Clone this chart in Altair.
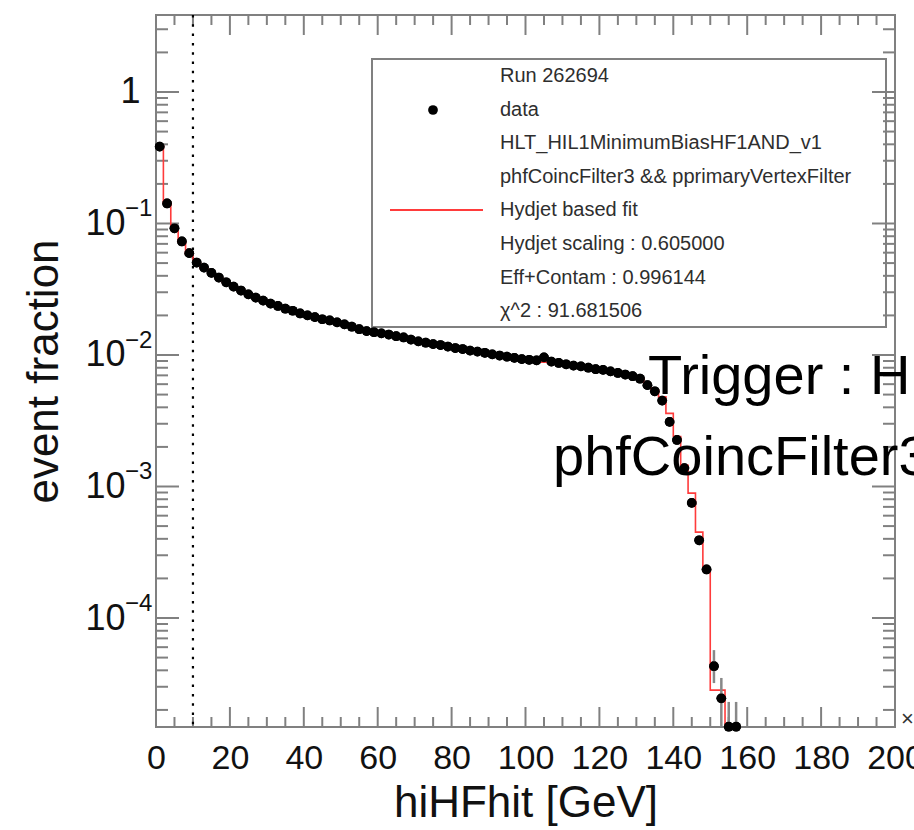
import altair as alt
import pandas as pd

# ---------------- data ----------------
bin_centers = list(range(1, 159, 2))  # 1, 3, ..., 157
data_frac = [
    0.384, 0.142, 0.092, 0.073, 0.0595, 0.0505, 0.0462, 0.0421, 0.0388, 0.0357,
    0.0331, 0.0309, 0.0289, 0.0273, 0.0259, 0.0246, 0.0236, 0.0225, 0.0217, 0.0207,
    0.0200, 0.0194, 0.0187, 0.0183, 0.0177, 0.0171, 0.0164, 0.0157, 0.0152, 0.0149,
    0.0146, 0.0143, 0.0139, 0.0136, 0.0131, 0.0127, 0.0124, 0.0121, 0.0119, 0.0116,
    0.0113, 0.0111, 0.0108, 0.0106, 0.0104, 0.0101, 0.0099, 0.0097, 0.0095, 0.0093,
    0.0092, 0.0091, 0.0096, 0.0089, 0.0087, 0.0085, 0.0083, 0.0082, 0.0080, 0.0078,
    0.0077, 0.0075, 0.0073, 0.0071, 0.0069, 0.0066, 0.0059, 0.0053, 0.0045, 0.0031,
    0.00226, 0.00138, 0.00075, 0.00039, 0.000234, 0.000043, 0.0000245, 0.0000149, 0.0000149,
]

fit_edges = list(range(0, 158, 2))  # 0, 2, ..., 156
fit_frac = [
    0.39, 0.143, 0.091, 0.072, 0.059, 0.0505, 0.0458, 0.0419, 0.0385, 0.0356,
    0.0331, 0.0309, 0.0290, 0.0274, 0.0259, 0.0247, 0.0235, 0.0225, 0.0216, 0.0207,
    0.0200, 0.0193, 0.0187, 0.0181, 0.0176, 0.0170, 0.0164, 0.0158, 0.0153, 0.0149,
    0.0145, 0.0141, 0.0138, 0.0135, 0.0131, 0.0127, 0.0124, 0.0121, 0.0118, 0.0115,
    0.0113, 0.0110, 0.0108, 0.0105, 0.0103, 0.0101, 0.0099, 0.0096, 0.0094, 0.0092,
    0.0090, 0.0089, 0.0088, 0.0087, 0.0085, 0.0084, 0.0082, 0.0080, 0.0079, 0.0077,
    0.0076, 0.0074, 0.0072, 0.0070, 0.0068, 0.0066, 0.0060, 0.0054, 0.0048, 0.0036,
    0.0024, 0.00145, 0.00089, 0.00045, 0.00023, 0.0000283, 0.0000283, 0.000001,
]

err_x = [151, 153, 155, 157]
err_lo = [3.2e-5, 1.5e-5, 1.5e-5, 1.5e-5]
err_hi = [5.7e-5, 3.5e-5, 2.3e-5, 2.3e-5]

x_major_ticks = [0, 20, 40, 60, 80, 100, 120, 140, 160, 180, 200]
x_minor_ticks = [v for v in range(5, 200, 5) if v % 20 != 0]
y_label_values = [1e-4, 1e-3, 1e-2, 1e-1, 1]
y_exponents = [-1, -2, -3, -4]
y_decades = [1e-5, 1e-4, 1e-3, 1e-2, 1e-1, 1]
y_mults = [2, 3, 4, 5, 6, 7, 8, 9]

legend_labels = [
    "Run 262694",
    "data",
    "HLT_HIL1MinimumBiasHF1AND_v1",
    "phfCoincFilter3 && pprimaryVertexFilter",
    "Hydjet based fit",
    "Hydjet scaling : 0.605000",
    "Eff+Contam : 0.996144",
    "χ^2 : 91.681506",
]
trigger_lines = [
    "Trigger : HLT_HIL1MinimumBiasHF1AND_v1",
    "phfCoincFilter3 && pprimaryVertexFilter",
]
cut_value = [10]

# ---------------- layout ----------------
W, H = 739, 712
FONT = "Liberation Sans"
FRAME = "#808080"
YMIN, YMAX = 1.483e-5, 3.85

xs = alt.Scale(domain=[0, 200], nice=False, zero=False)
ys = alt.Scale(type="log", domain=[YMIN, YMAX], nice=False)

y_minor = [d * m for d in y_decades for m in y_mults if YMIN <= d * m <= YMAX]
y_major = [d for d in y_decades if YMIN <= d <= YMAX]

df_pts = pd.DataFrame({"x": bin_centers, "y": data_frac})
df_fit = pd.DataFrame({"x": fit_edges, "y": fit_frac + [fit_frac[-1]]})
df_err = pd.DataFrame({"x": err_x, "lo": err_lo, "hi": err_hi})

x_axis = alt.Axis(values=x_major_ticks, ticks=False, domain=False, grid=False,
                  labelFontSize=34, labelPadding=14, labelBound=False,
                  labelOverlap=False, labelFlush=False,
                  title="hiHFhit [GeV]", titleFontSize=44, titlePadding=6)
y_axis = alt.Axis(values=y_label_values, ticks=False, domain=False, grid=False,
                  labelExpr="datum.value == 1 ? '1' : '10'",
                  labelFontSize=36,
                  labelPadding={"condition": {"test": "datum.value == 1", "value": 16}, "value": 31},
                  title="event fraction", titleFontSize=44, titlePadding=18)


def X(field):
    return alt.X(field, scale=xs, axis=None)


def Y(field):
    return alt.Y(field, scale=ys, axis=None)


points = alt.Chart(df_pts).mark_circle(color="black", size=95, opacity=1).encode(
    x=alt.X("x:Q", scale=xs, axis=x_axis), y=alt.Y("y:Q", scale=ys, axis=y_axis),
)

# legend box
legend_box = alt.Chart(pd.DataFrame({"a": [0]})).mark_rect(
    fill="white", stroke=FRAME, strokeWidth=2
).encode(x=alt.value(216), x2=alt.value(730), y=alt.value(44), y2=alt.value(312))

legend_text = alt.Chart(pd.DataFrame({"label": legend_labels, "i": list(range(len(legend_labels)))})).transform_calculate(
    ypix="61 + 33.6 * datum.i"
).mark_text(align="left", baseline="middle", font=FONT, fontSize=20, color="#2e2e2e").encode(
    x=alt.value(344), y=alt.Y("ypix:Q", scale=None), text="label:N"
)
legend_dot = alt.Chart(pd.DataFrame({"a": [0]})).mark_point(
    filled=True, color="black", size=95, opacity=1
).encode(x=alt.value(277), y=alt.value(95))
legend_line = alt.Chart(pd.DataFrame({"a": [0]})).mark_rule(
    color="#ff3b3b", strokeWidth=2
).encode(x=alt.value(234), x2=alt.value(327), y=alt.value(195))


# frame ticks (pointing inward, ROOT style)
def xticks(vals, length):
    d = pd.DataFrame({"tx": vals})
    bot = alt.Chart(d).mark_rule(color=FRAME, strokeWidth=2).encode(
        x=X("tx:Q"), y=alt.value(H), y2=alt.value(H - length))
    top = alt.Chart(d).mark_rule(color=FRAME, strokeWidth=2).encode(
        x=X("tx:Q"), y=alt.value(0), y2=alt.value(length))
    return [bot, top]


def yticks(vals, length):
    d = pd.DataFrame({"ty": vals})
    left = alt.Chart(d).mark_rule(color=FRAME, strokeWidth=2).encode(
        y=Y("ty:Q"), x=alt.value(0), x2=alt.value(length))
    right = alt.Chart(d).mark_rule(color=FRAME, strokeWidth=2).encode(
        y=Y("ty:Q"), x=alt.value(W), x2=alt.value(W - length))
    return [left, right]


tick_layers = (xticks(x_major_ticks, 20) + xticks(x_minor_ticks, 10)
               + yticks(y_major, 23) + yticks(y_minor, 12))

cut_line = alt.Chart(pd.DataFrame({"x": cut_value})).mark_rule(
    color="black", strokeWidth=2.2, strokeDash=[2.5, 6.8]
).encode(x=X("x:Q"), y=alt.value(0), y2=alt.value(H))

fit_line = alt.Chart(df_fit).mark_line(
    interpolate="step-after", color="#ff3b3b", strokeWidth=1.6, clip=True
).encode(x=X("x:Q"), y=Y("y:Q"))

err_bars = alt.Chart(df_err).mark_rule(color="#888", strokeWidth=2.5).encode(
    x=X("x:Q"), y=Y("lo:Q"), y2="hi:Q",
)

points_top = alt.Chart(df_pts).mark_circle(color="black", size=95, opacity=1).encode(
    x=X("x:Q"), y=Y("y:Q"),
)

sup = alt.Chart(pd.DataFrame({"e": y_exponents})).transform_calculate(
    yv="pow(10, datum.e)", s="'−' + abs(datum.e)"
).mark_text(align="left", baseline="middle", font=FONT, fontSize=24, color="#111", dy=-14).encode(
    x=alt.value(-31), y=Y("yv:Q"), text="s:N"
)

trig = alt.Chart(pd.DataFrame({"t": trigger_lines, "i": [0, 1]})).transform_calculate(
    xpix="datum.i == 0 ? 492 : 397", ypix="datum.i == 0 ? 379 : 460"
).mark_text(align="left", baseline="alphabetic", font=FONT, fontSize=56, color="black").encode(
    x=alt.X("xpix:Q", scale=None), y=alt.Y("ypix:Q", scale=None), text="t:N"
)

times = alt.Chart(pd.DataFrame({"t": ["×10³"]})).mark_text(
    align="left", baseline="middle", font=FONT, fontSize=22, color="#333"
).encode(x=alt.value(745), y=alt.value(704), text="t:N")

chart = alt.layer(
    points, legend_box, legend_text, legend_dot, legend_line,
    *tick_layers, cut_line, fit_line, err_bars, points_top, sup, trig, times
).resolve_axis(x="independent", y="independent").properties(
    width=W, height=H,
    autosize=alt.AutoSizeParams(type="none"),
    padding={"left": 156, "top": 15, "right": 19, "bottom": 103},
).configure_view(stroke=FRAME, strokeWidth=2).configure_axis(
    labelFont=FONT, titleFont=FONT, labelColor="#111", titleColor="#111",
    titleFontWeight="normal",
)

chart.save("out.html", embed_options={"renderer": "svg", "actions": False})
